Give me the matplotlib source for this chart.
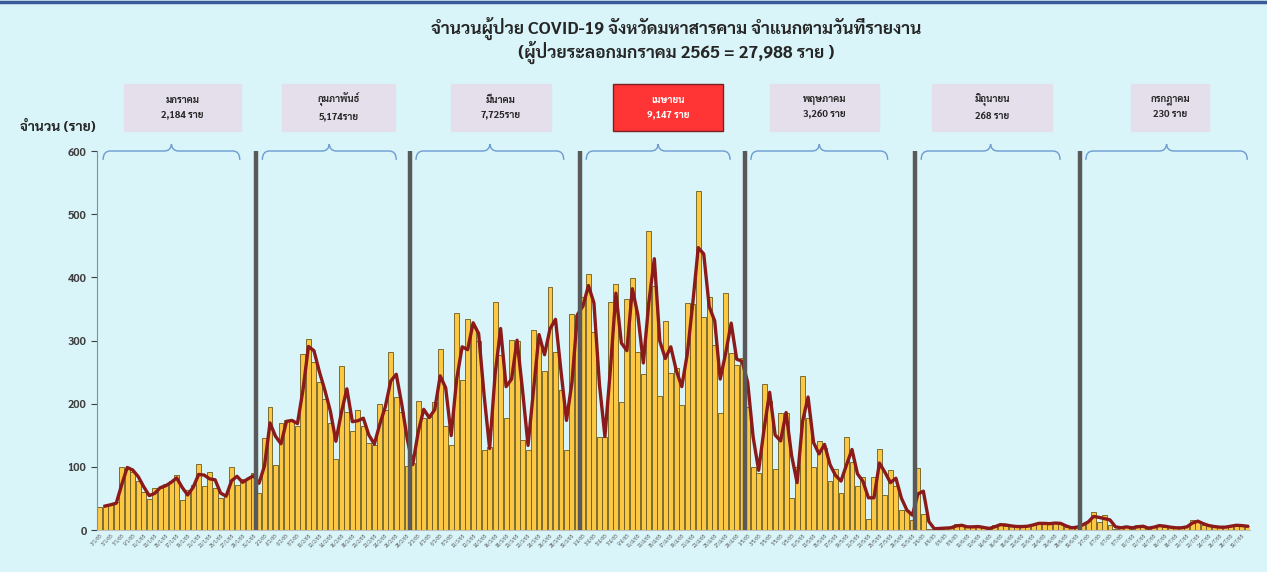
import matplotlib
matplotlib.use('Agg')
import matplotlib.pyplot as plt
import numpy as np
import pandas as pd
from matplotlib import font_manager
from matplotlib.patches import Rectangle, PathPatch
from matplotlib.path import Path
from matplotlib.lines import Line2D
import matplotlib.transforms as mtransforms

# daily cases, 3 Jan - 31 Jul 2565
jan = [37, 39, 41, 44, 100, 98, 92, 77, 60, 49, 67, 67, 73, 78, 87, 48, 63, 72, 104, 70,
       92, 67, 50, 57, 99, 71, 80, 82, 90]
feb = [58, 145, 194, 103, 170, 174, 173, 164, 279, 302, 266, 235, 207, 169, 112, 260, 187, 156,
       190, 164, 137, 135, 200, 190, 282, 211, 187, 101]
mar = [106, 205, 177, 179, 202, 286, 164, 135, 343, 237, 334, 322, 300, 126, 132, 361, 277, 177,
       301, 300, 142, 126, 316, 303, 252, 385, 282, 221, 126, 342, 340]
apr = [369, 405, 314, 148, 148, 361, 389, 203, 365, 399, 282, 247, 473, 386, 212, 331, 249, 256,
       198, 359, 358, 536, 338, 369, 293, 185, 375, 280, 261, 273]
may = [195, 99, 90, 231, 205, 96, 186, 186, 50, 100, 244, 177, 100, 141, 130, 77, 96, 59, 147,
       108, 70, 84, 18, 84, 128, 55, 95, 69, 32, 31, 16]
jun = [98, 25, 2, 2, 3, 3, 4, 9, 6, 4, 6, 5, 3, 2, 8, 9, 7, 6, 5, 6, 6, 10, 11, 10, 10, 12, 9,
       4, 3, 6]
jul = [10, 15, 28, 12, 24, 8, 2, 5, 5, 2, 8, 4, 2, 7, 7, 5, 4, 3, 4, 6, 16, 12, 8, 6, 5, 4, 5,
       7, 8, 6, 6]

month_names = ['มกราคม', 'กุมภาพันธ์', 'มีนาคม', 'เมษายน', 'พฤษภาคม', 'มิถุนายน', 'กรกฎาคม']
month_totals = ['2,184 ราย', '5,174ราย', '7,725ราย', '9,147 ราย', '3,260 ราย', '268 ราย', '230 ราย']

title1 = 'จำนวนผู้ป่วย COVID-19 จังหวัดมหาสารคาม จำแนกตามวันที่รายงาน'
title2 = '(ผู้ป่วยระลอกมกราคม 2565 = 27,988 ราย )'

# pick a Thai font that also has a bold face
fonts = font_manager.fontManager.ttflist
thai = 'DejaVu Sans'
for name in ['Sarabun', 'IBM Plex Sans Thai Looped', 'Noto Sans Thai Looped',
             'IBM Plex Sans Thai', 'Bai Jamjuree', 'Noto Sans Thai']:
    if any(f.name == name and f.weight >= 700 for f in fonts):
        thai = name
        break
plt.rcParams['font.family'] = [thai, 'DejaVu Sans']

months = [jan, feb, mar, apr, may, jun, jul]
cases = np.concatenate(months)
dates = pd.date_range('2022-01-03', periods=len(cases), freq='D')
days = np.arange(len(cases))
ma = pd.Series(cases).rolling(2).mean()

bg = '#d9f5f9'
fig = plt.figure(figsize=(12.67, 5.72), dpi=100, facecolor=bg)
ax = fig.add_axes([0.0766, 0.0734, 0.9100, 0.6626], facecolor=bg)

ax.bar(days, cases, width=0.9, color='#fcc844', edgecolor='#6b5a1e', linewidth=0.6, zorder=2)
ax.plot(days, ma, color='#8b1a1a', linewidth=2.4, zorder=3)

ax.set_xlim(-0.5, len(cases) - 0.5)
ax.set_ylim(0, 600)
ax.set_yticks(range(0, 601, 100))
ax.tick_params(axis='y', labelsize=8, colors='#404040', length=4, width=0.8)
for lab in ax.get_yticklabels():
    lab.set_fontweight('bold')

ax.set_xticks(days[::2])
ax.set_xticklabels([f'{d.day}/{d.month}/65' for d in dates[::2]], rotation=45,
                   fontsize=3.5, color='#555555', ha='right', rotation_mode='anchor')
ax.tick_params(axis='x', length=0, pad=2)

for s in ['top', 'right']:
    ax.spines[s].set_visible(False)
ax.spines['left'].set_color('#8c8c8c')
ax.spines['bottom'].set_color('#bfbfbf')

# month separators, braces and boxes
sizes = [len(m) for m in months]
starts = np.cumsum([0] + sizes[:-1])
for st in starts[1:]:
    ax.axvline(st - 0.5, ymin=0, ymax=1, color='#595959', linewidth=3.2, zorder=4)

def brace(x0, x1, y0=586, y1=600, y2=611):
    xm = (x0 + x1) / 2
    c = 1.3
    verts = [(x0, y0), (x0, y1), (x0 + c, y1), (xm - c, y1),
             (xm - 0.1, y1), (xm, y2), (xm + 0.1, y1), (xm + c, y1),
             (x1 - c, y1), (x1, y1), (x1, y0)]
    codes = [Path.MOVETO, Path.CURVE3, Path.CURVE3, Path.LINETO,
             Path.CURVE3, Path.CURVE3, Path.CURVE3, Path.CURVE3,
             Path.LINETO, Path.CURVE3, Path.CURVE3]
    ax.add_patch(PathPatch(Path(verts, codes), fill=False, edgecolor='#6c9bd2', linewidth=1.0,
                           clip_on=False, zorder=5))

box_w = [21.3, 20.6, 18.2, 20.2, 19.7, 22.0, 14.2]
box_dx = [1, 1, 1, 1, -1, -1, 1]
brace_end = [3, 2.5, 3, 2.7, 5, 3.6, 0.5]
trans = mtransforms.blended_transform_factory(ax.transData, ax.transAxes)
for i, (st, n) in enumerate(zip(starts, sizes)):
    brace(st + 0.6, st + n - 0.5 - brace_end[i])
    xc = st + n / 2 - 0.5 + box_dx[i]
    red = month_names[i] == 'เมษายน'
    ax.add_patch(Rectangle((xc - box_w[i] / 2, 1.053), box_w[i], 0.124, transform=trans,
                           facecolor='#ff3535' if red else '#e5dfec',
                           edgecolor='#7a2020' if red else '#e5dfec',
                           linewidth=1.0, clip_on=False))
    ax.text(xc, 1.115, month_names[i] + '\n' + month_totals[i], transform=trans,
            ha='center', va='center', fontsize=7, fontweight='bold', linespacing=1.7,
            color='white' if red else '#262626')

fig.text(0.534, 0.951, title1, ha='center', va='center', fontsize=12.5, fontweight='bold',
         color='#262626')
fig.text(0.534, 0.909, title2, ha='center', va='center', fontsize=12.5, fontweight='bold',
         color='#262626')
fig.text(0.016, 0.778, 'จำนวน (ราย)', ha='left', va='center', fontsize=10, fontweight='bold',
         color='#262626')

fig.add_artist(Line2D([0, 1], [0.997, 0.997], color='#3b5a9a', linewidth=2.5))

fig.savefig('out.png', dpi=100, facecolor=bg)
